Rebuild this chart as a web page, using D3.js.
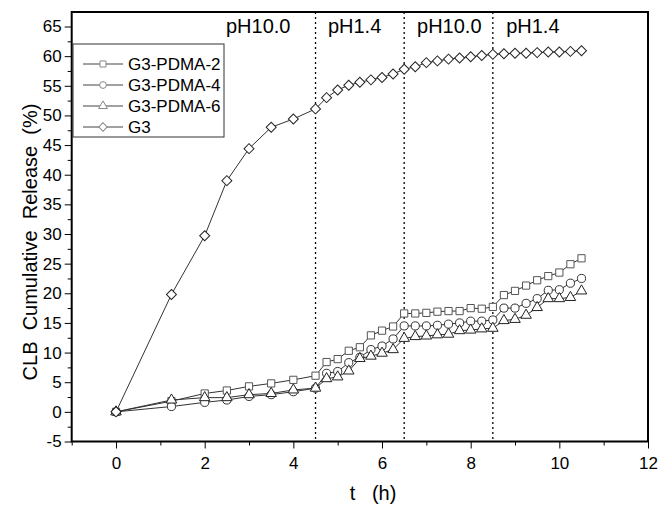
<!DOCTYPE html>
<meta charset="utf-8">
<style>
body { margin: 0; background: #fff; }
svg { font-family: "Liberation Sans", Arial, sans-serif; }
.axis path, .axis line { stroke: #000; }
.series-line { fill: none; stroke: #333; stroke-width: 1px; }
.marker { fill: #fff; stroke-width: 1px; }
</style>
<body>
<script src="https://cdn.jsdelivr.net/npm/d3@7/dist/d3.min.js"></script>
<script>

// sampling times (h)
var times = [0, 1.25, 2, 2.5, 3, 3.5, 4, 4.5, 4.75, 5, 5.25, 5.5, 5.75, 6, 6.25, 6.5,
  6.75, 7, 7.25, 7.5, 7.75, 8, 8.25, 8.5, 8.75, 9, 9.25, 9.5, 9.75, 10, 10.25, 10.5];

// cumulative release (%)
var pdma2 = [0, 1.8, 3.1, 3.6, 4.3, 4.8, 5.4, 6.1, 8.4, 8.9, 10.3, 10.9, 12.9, 13.7, 14.4, 16.6,
  16.6, 16.7, 16.9, 17.0, 17.0, 17.5, 17.4, 17.7, 19.7, 20.4, 21.3, 22.2, 22.9, 23.5, 24.9, 25.9];
var pdma4 = [0, 0.9, 1.6, 2.0, 2.6, 2.9, 3.4, 4.0, 6.5, 6.8, 8.3, 9.2, 10.5, 11.1, 12.3, 14.5,
  14.5, 14.5, 14.6, 14.8, 15.0, 15.3, 15.3, 15.5, 17.5, 17.5, 18.3, 19.1, 20.5, 20.6, 21.7, 22.5];
var pdma6 = [0, 2.0, 2.4, 2.4, 2.9, 3.1, 3.7, 4.0, 5.6, 5.9, 6.9, 9.0, 9.4, 9.9, 10.5, 12.4,
  12.7, 12.8, 13.0, 13.1, 13.7, 13.8, 14.0, 14.1, 15.4, 15.6, 16.3, 17.6, 19.1, 19.1, 19.3, 20.4];
var g3 = [0, 19.8, 29.7, 39.0, 44.4, 48.0, 49.4, 51.1, 53.0, 54.3, 55.1, 55.6, 56.0, 56.4, 57.0, 57.8,
  58.2, 58.9, 59.2, 59.5, 59.7, 59.9, 60.1, 60.3, 60.4, 60.5, 60.5, 60.6, 60.7, 60.7, 60.8, 60.9];

var seriesNames = ["G3-PDMA-2", "G3-PDMA-4", "G3-PDMA-6", "G3"];
var seriesValues = [pdma2, pdma4, pdma6, g3];

// pH switch times and the phase labels
var phSwitch = [4.5, 6.5, 8.5];
var phLabels = ["pH10.0", "pH1.4", "pH10.0", "pH1.4"];
var phLabelT = [2.48, 4.78, 6.79, 8.8];

var xTicks = [0, 2, 4, 6, 8, 10, 12];
var yTicks = [-5, 0, 5, 10, 15, 20, 25, 30, 35, 40, 45, 50, 55, 60, 65];

var W = 659, H = 506;
var plot = {left: 71.7, right: 648, top: 12, bottom: 441.5};

var x = d3.scaleLinear().domain([-1, 12]).range([plot.left, plot.right]);
var y = d3.scaleLinear().domain([-5, 65]).range([plot.bottom, plot.bottom - 415]);

var svg = d3.select("body").append("svg")
    .attr("width", W)
    .attr("height", H);

// dotted pH boundaries
svg.selectAll(".ph-line")
    .data(phSwitch)
  .enter().append("line")
    .attr("x1", function(d) { return x(d); })
    .attr("x2", function(d) { return x(d); })
    .attr("y1", plot.top)
    .attr("y2", plot.bottom)
    .attr("stroke", "#000")
    .attr("stroke-width", 1.3)
    .attr("stroke-dasharray", "2,3");

svg.selectAll(".ph-label")
    .data(phLabels)
  .enter().append("text")
    .attr("x", function(d, i) { return x(phLabelT[i]); })
    .attr("y", 33)
    .attr("font-size", 20)
    .text(function(d) { return d; });

// symbols (diamond = square turned 45 degrees)
var symbolTypes = [d3.symbolSquare, d3.symbolCircle, d3.symbolTriangle, d3.symbolSquare];
var symbolSizes = [52, 52, 48, 50];
var symbolRotate = [0, 0, 0, 45];
var markerStroke = ["#555", "#333", "#222", "#222"];

function symbolPath(i, scale) {
  return d3.symbol().type(symbolTypes[i]).size(symbolSizes[i] * (scale || 1))();
}

var line = d3.line()
    .x(function(d) { return x(d[0]); })
    .y(function(d) { return y(d[1]); });

seriesValues.forEach(function(vals, i) {
  var pts = times.map(function(t, k) { return [t, vals[k]]; });
  svg.append("path")
      .datum(pts)
      .attr("class", "series-line")
      .attr("d", line);
  svg.selectAll(".m" + i)
      .data(pts)
    .enter().append("path")
      .attr("class", "marker")
      .attr("stroke", markerStroke[i])
      .attr("transform", function(d) {
        return "translate(" + x(d[0]) + "," + y(d[1]) + ") rotate(" + symbolRotate[i] + ")";
      })
      .attr("d", symbolPath(i));
});

// axes
var fmt = function(d) { return String(d); };
svg.append("g")
    .attr("class", "axis")
    .attr("transform", "translate(0," + plot.bottom + ")")
    .call(d3.axisBottom(x).tickValues(xTicks).tickSize(7).tickPadding(8).tickFormat(fmt));
svg.append("g")
    .attr("class", "axis")
    .attr("transform", "translate(0," + plot.bottom + ")")
    .call(d3.axisBottom(x).tickValues(d3.range(-1, 12, 2)).tickSize(4).tickFormat(""));

svg.append("g")
    .attr("class", "axis")
    .attr("transform", "translate(" + plot.left + ",0)")
    .call(d3.axisLeft(y).tickValues(yTicks).tickSize(7).tickPadding(3).tickFormat(fmt));
svg.append("g")
    .attr("class", "axis")
    .attr("transform", "translate(" + plot.left + ",0)")
    .call(d3.axisLeft(y).tickValues(d3.range(-2.5, 66, 5)).tickSize(4).tickFormat(""));

svg.selectAll(".axis .domain").remove();
svg.selectAll(".axis text").attr("font-size", 17).attr("font-family", "Liberation Sans, Arial, sans-serif");

// frame
svg.append("rect")
    .attr("x", plot.left)
    .attr("y", plot.top)
    .attr("width", plot.right - plot.left)
    .attr("height", plot.bottom - plot.top)
    .attr("fill", "none")
    .attr("stroke", "#000")
    .attr("stroke-width", 2);

// axis titles
svg.append("text")
    .attr("x", 373)
    .attr("y", 500)
    .attr("text-anchor", "middle")
    .attr("font-size", 20)
    .attr("xml:space", "preserve")
    .text("t   (h)");

svg.append("text")
    .attr("transform", "translate(37,242) rotate(-90)")
    .attr("text-anchor", "middle")
    .attr("font-size", 20)
    .attr("xml:space", "preserve")
    .text("CLB  Cumulative  Release  (%)");

// legend
var legend = svg.append("g");
legend.append("rect")
    .attr("x", 73).attr("y", 44)
    .attr("width", 151).attr("height", 93)
    .attr("fill", "#fff")
    .attr("stroke", "#333")
    .attr("stroke-width", 1);

seriesNames.forEach(function(name, i) {
  var ly = 64 + i * 21;
  legend.append("line")
      .attr("x1", 83).attr("x2", 123)
      .attr("y1", ly).attr("y2", ly)
      .attr("stroke", "#444");
  legend.append("path")
      .attr("class", "marker")
      .attr("stroke", "#888")
      .attr("transform", "translate(103," + ly + ") rotate(" + symbolRotate[i] + ")")
      .attr("d", symbolPath(i, 0.7));
  legend.append("text")
      .attr("x", 128)
      .attr("y", ly + 6)
      .attr("font-size", 17)
      .text(name);
});

</script>
</body>
